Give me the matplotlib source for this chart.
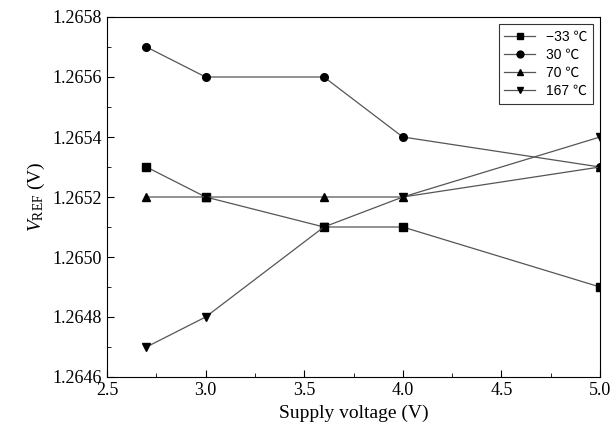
import matplotlib.pyplot as plt
from matplotlib.ticker import MultipleLocator, FormatStrFormatter

supply_v = [2.7, 3.0, 3.6, 4.0, 5.0]
labels = ['\u221233 \u2103', '30 \u2103', '70 \u2103', '167 \u2103']
vref_m33 = [1.2653, 1.2652, 1.2651, 1.2651, 1.2649]
vref_30 = [1.2657, 1.2656, 1.2656, 1.2654, 1.2653]
vref_70 = [1.2652, 1.2652, 1.2652, 1.2652, 1.2653]
vref_167 = [1.2647, 1.2648, 1.2651, 1.2652, 1.2654]

plt.rcParams['font.family'] = ['Liberation Serif', 'DejaVu Serif']
plt.rcParams['mathtext.fontset'] = 'custom'
plt.rcParams['mathtext.rm'] = 'Liberation Serif'
plt.rcParams['mathtext.it'] = 'Liberation Serif:italic'

fig = plt.figure(figsize=(6.14, 4.42), dpi=100)
ax = fig.add_axes([107 / 614, 1 - 377 / 442, 493 / 614, 360 / 442])

series = [vref_m33, vref_30, vref_70, vref_167]
markers = ['s', 'o', '^', 'v']
for vals, m, lab in zip(series, markers, labels):
    ax.plot(supply_v, vals, color='#555555', lw=0.9, marker=m, ms=5.5,
            mfc='black', mec='black', label=lab)

ax.set_xlim(2.5, 5.0)
ax.set_ylim(1.2646, 1.2658)
ax.xaxis.set_major_locator(MultipleLocator(0.5))
ax.xaxis.set_minor_locator(MultipleLocator(0.25))
ax.yaxis.set_major_locator(MultipleLocator(0.0002))
ax.yaxis.set_minor_locator(MultipleLocator(0.0001))
ax.xaxis.set_major_formatter(FormatStrFormatter('%.1f'))
ax.yaxis.set_major_formatter(FormatStrFormatter('%.4f'))
ax.tick_params(which='both', direction='in', labelsize=13)
ax.tick_params(which='major', length=5)
ax.tick_params(which='minor', length=3)

ax.set_xlabel('Supply voltage (V)', fontsize=14)
ax.set_ylabel(r'$V_{\mathrm{REF}}$ (V)', fontsize=14)

leg = ax.legend(loc='upper right', frameon=True, fancybox=False, edgecolor='black',
                prop={'family': ['Liberation Sans', 'Noto Sans CJK SC'], 'size': 10},
                handlelength=2.2, borderpad=0.4, labelspacing=0.3, markerscale=0.9)
leg.get_frame().set_linewidth(0.8)

fig.savefig('out.png', dpi=100)
